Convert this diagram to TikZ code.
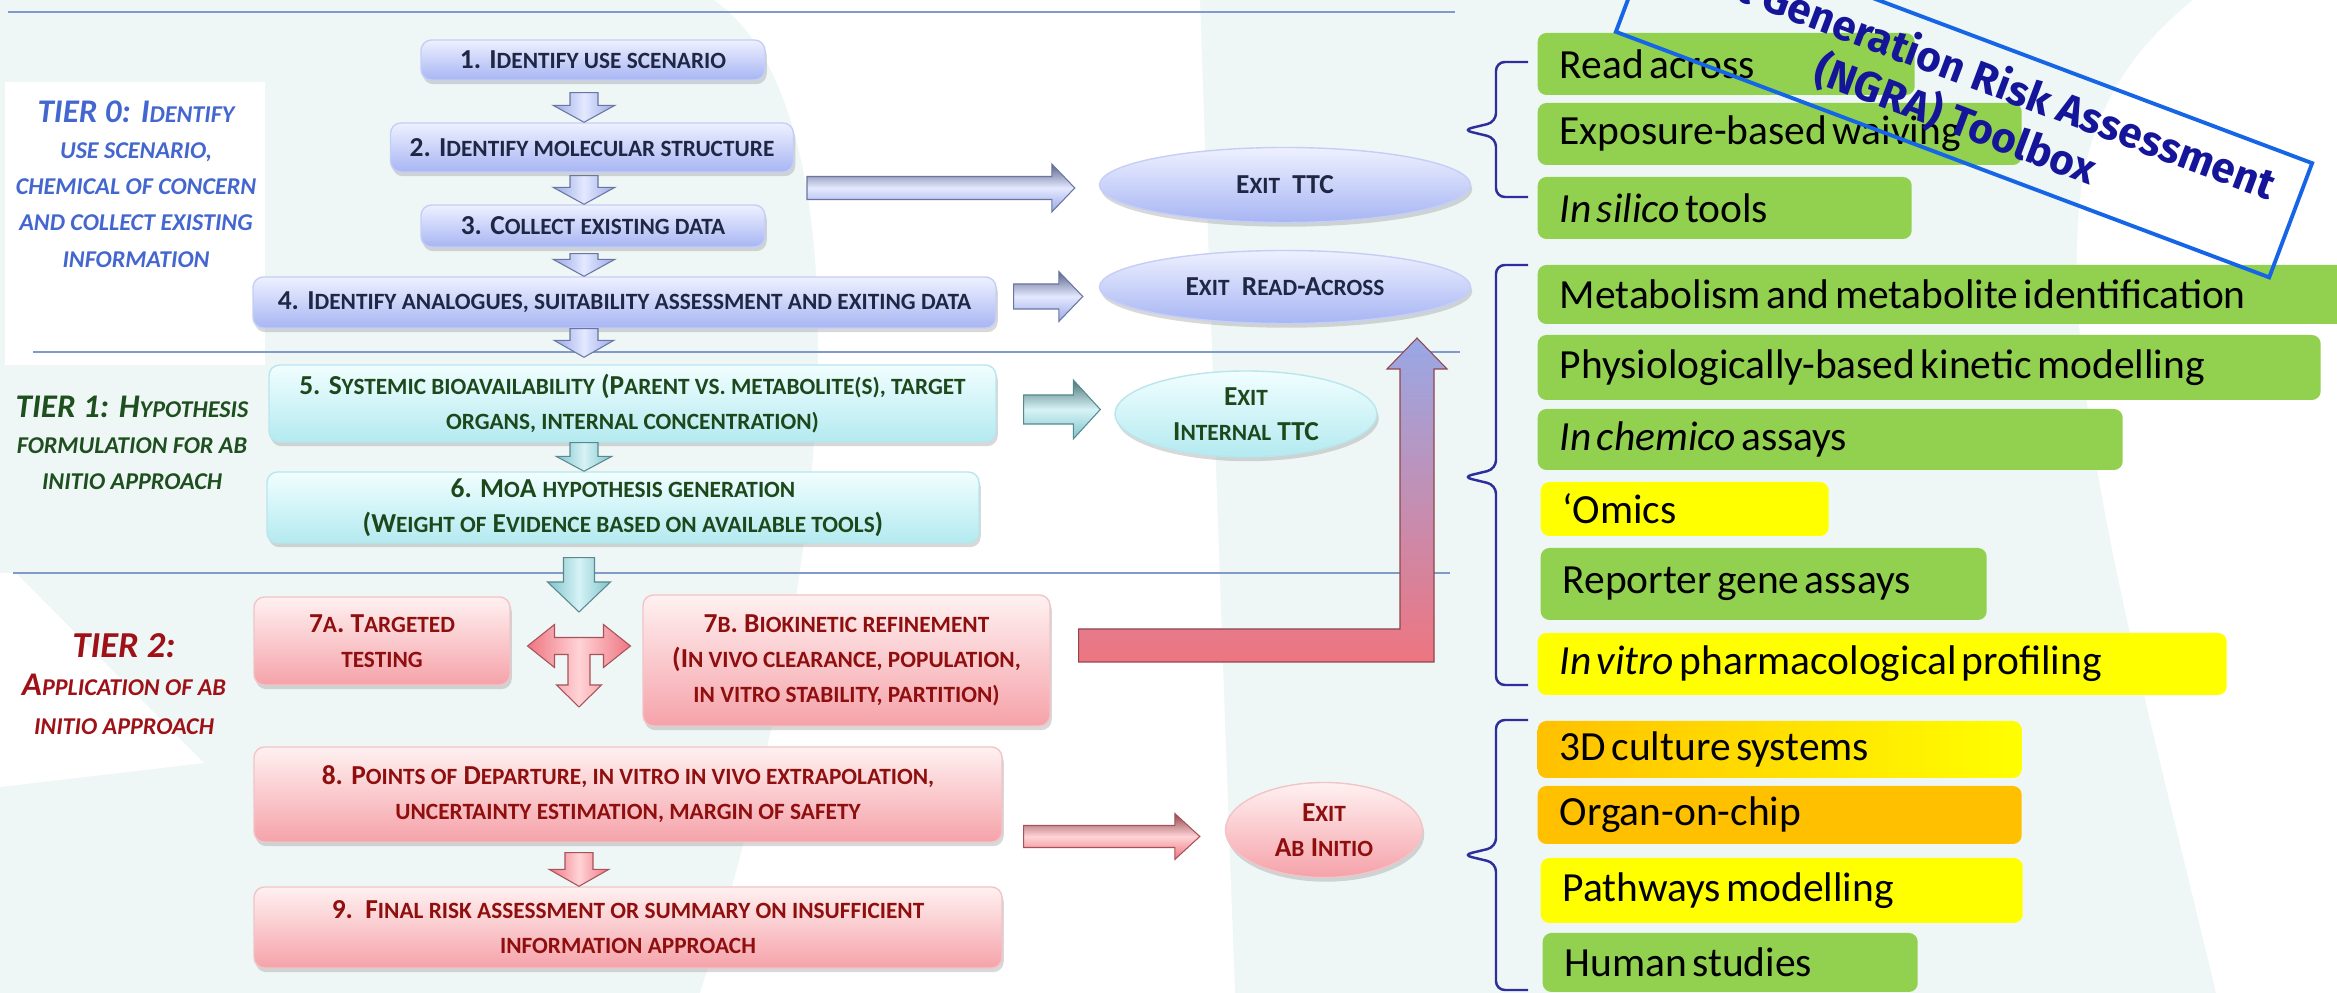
\documentclass[tikz,border=0pt]{standalone}
\usepackage{fontspec}
\setmainfont{Carlito}
\newfontfamily\toolfont{Carlito}
\newfontfamily\bannerfont{Fira Sans}
\usetikzlibrary{calc,positioning,shapes.geometric,shadows}

\definecolor{mint}{HTML}{EEF7F6}
\definecolor{rulec}{HTML}{7F9ACB}
\definecolor{navytxt}{HTML}{1F2744}
\definecolor{greentxt}{HTML}{1C481C}
\definecolor{redtxt}{HTML}{8F0E0E}
\definecolor{tzero}{HTML}{4466CF}
\definecolor{tone}{HTML}{1E4F1F}
\definecolor{ttwo}{HTML}{9E1217}
\definecolor{lavtop}{HTML}{EEF1FF}
\definecolor{lavbot}{HTML}{A7B5F3}
\definecolor{lavedge}{HTML}{C5CEF7}
\definecolor{cyantop}{HTML}{F1FEFF}
\definecolor{cyanbot}{HTML}{B3EAF0}
\definecolor{cyanedge}{HTML}{B8E6EC}
\definecolor{pinktop}{HTML}{FFF1F1}
\definecolor{pinkbot}{HTML}{F5A2A9}
\definecolor{pinkedge}{HTML}{F2C4C7}
\definecolor{arrlav}{HTML}{98A8E6}
\definecolor{arrlight}{HTML}{E4E9FF}
\definecolor{arrcyan}{HTML}{7FC3CB}
\definecolor{arrcyanlt}{HTML}{D6F3F6}
\definecolor{arrpink}{HTML}{EE7580}
\definecolor{arrpinklt}{HTML}{FFD3D6}
\definecolor{leaf}{HTML}{92D050}
\definecolor{sun}{HTML}{FFFF00}
\definecolor{amber}{HTML}{FFC000}
\definecolor{bracec}{HTML}{2D2D9C}
\definecolor{bannerblue}{HTML}{1565E6}
\definecolor{bannertxt}{HTML}{15159A}

\newcommand\skf{0.85}
\makeatletter
\newcommand\sk[1]{{\fontsize{\fpeval{\skf*\f@size}}{\f@baselineskip}\selectfont\MakeUppercase{#1}}}
\makeatother
\newcommand\bxf{\fontsize{7.8}{10}\selectfont\bfseries}

\newcommand\arrdown[6]{%
  \path[#1] let \p1=#2, \p2=#3 in
    (\x1-#4,\y1) -- (\x1+#4,\y1) -- (\x1+#4,\y2+#6) -- (\x1+#5,\y2+#6) -- (\x1,\y2)
    -- (\x1-#5,\y2+#6) -- (\x1-#4,\y2+#6) -- cycle;}
\newcommand\arrright[6]{%
  \path[#1] let \p1=#2, \p2=#3 in
    (\x1,\y1+#4) -- (\x2-#6,\y1+#4) -- (\x2-#6,\y1+#5) -- (\x2,\y1)
    -- (\x2-#6,\y1-#5) -- (\x2-#6,\y1-#4) -- (\x1,\y1-#4) -- cycle;}

\begin{document}
\begin{tikzpicture}[
  shade0/.style={top color=lavtop, bottom color=lavbot, draw=lavedge, text=navytxt},
  shade1/.style={top color=cyantop, bottom color=cyanbot, draw=cyanedge, text=greentxt},
  shade2/.style={top color=pinktop, bottom color=pinkbot, draw=pinkedge, text=redtxt},
  stepbox/.style={rounded corners=3pt, line width=0.4pt, align=center, inner sep=1pt, font=\bxf,
    drop shadow={shadow xshift=0.5pt, shadow yshift=-1.2pt, opacity=0.3}},
  exitnode/.style={ellipse, line width=0.4pt, align=center, inner sep=0pt, font=\bxf,
    drop shadow={shadow xshift=0.5pt, shadow yshift=-1.2pt, opacity=0.3}},
  tier/.style={align=center, font=\fontsize{9.4}{10.3}\selectfont\bfseries\itshape,
    execute at begin node={\def\skf{0.73}}},
  gbox/.style 2 args={anchor=west, rounded corners=2.5pt, text width=#1, minimum height=#2,
    inner xsep=0.22cm, inner ysep=0pt, align=left, font=\toolfont\fontsize{11.8}{14}\selectfont,
    execute at begin node={\spaceskip=0.13em\relax}},
  curly/.style={draw=bracec, line width=0.7pt, rounded corners=2.5pt},
  rule/.style={draw=rulec, line width=0.8pt},
  blk0/.style={left color=arrlav, right color=arrlav, middle color=arrlight, draw=arrlav!70!black, line width=0.3pt},
  blk1/.style={left color=arrcyan, right color=arrcyan, middle color=arrcyanlt, draw=arrcyan!70!black, line width=0.3pt},
  blk2/.style={left color=arrpink, right color=arrpink, middle color=arrpinklt, draw=arrpink!70!black, line width=0.3pt},
  blk0h/.style={top color=arrlav!60!black, bottom color=arrlav, middle color=arrlight, draw=arrlav!70!black, line width=0.3pt},
  blk1h/.style={top color=arrcyan!60!black, bottom color=arrcyan, middle color=arrcyanlt, draw=arrcyan!70!black, line width=0.3pt},
  blk2h/.style={top color=arrpink!60!black, bottom color=arrpink, middle color=arrpinklt, draw=arrpink!70!black, line width=0.3pt},
  blkL/.style={bottom color=arrpink, top color=arrlav, draw=arrpink!60!black, line width=0.3pt}]

  \useasboundingbox (0,0) rectangle (23.37,9.93);
  \clip (0,0) rectangle (23.37,9.93);

  \fill[mint] (0,0) rectangle (23.37,9.93);
  \fill[white] (7.14,9.93) .. controls (8.5,9.0) and (8.6,5.0) .. (7.0,0) -- (12.35,0)
    .. controls (12.2,4) and (12.1,7) .. (12.0,9.93) -- cycle;
  \fill[white] (21.93,9.93) -- (23.37,9.93) -- (23.37,0) -- (22.16,0)
    .. controls (21.4,3.2) and (20.6,6.0) .. (20.8,7.93) .. controls (20.9,8.9) and (21.4,9.5) .. (21.93,9.93) -- cycle;
  \fill[white] (0.05,9.11) rectangle (2.65,6.28);
  \fill[white] (0,4.2) -- (0.16,4.2) -- (2.04,2.30) -- (0,2.06) -- cycle;

  \draw[rule] (0.08,9.81) -- (14.55,9.81);
  \draw[rule, line width=0.6pt] (0.33,6.41) -- (14.6,6.41);
  \draw[rule, line width=0.6pt] (0.13,4.20) -- (14.5,4.20);

  \node[tier, text=tzero] (tier0) at (1.36,8.09)
    {TIER 0: I\sk{dentify}\\\sk{use scenario,}\\\sk{chemical of concern}\\\sk{and collect existing}\\\sk{information}};
  \node[tier, text=tone] (tier1) at (1.32,5.50)
    {TIER 1: H\sk{ypothesis}\\\sk{formulation for ab}\\\sk{initio approach}};
  \node[tier, text=ttwo, font=\fontsize{9.4}{11}\selectfont\bfseries\itshape] (tier2) at (1.24,3.09)
    {{\fontsize{10.4}{11}\selectfont TIER 2:}\\A\sk{pplication of ab}\\\sk{initio approach}};

  \node[stepbox, shade0, minimum width=3.44cm, minimum height=0.40cm] (step1) at (5.93,9.33)
    {1. I\sk{dentify use scenario}};
  \node[stepbox, shade0, minimum width=4.03cm, minimum height=0.49cm] (step2) at (5.92,8.455)
    {2. I\sk{dentify molecular structure}};
  \node[stepbox, shade0, minimum width=3.44cm, minimum height=0.42cm] (step3) at (5.93,7.67)
    {3. C\sk{ollect existing data}};
  \node[stepbox, shade0, minimum width=7.43cm, minimum height=0.51cm] (step4) at (6.245,6.905)
    {4. I\sk{dentify analogues, suitability assessment and exiting data}};
  \node[stepbox, shade1, minimum width=7.27cm, minimum height=0.77cm] (step5) at (6.325,5.895)
    {5. S\sk{ystemic bioavailability} (P\sk{arent vs. metabolite(s), target}\\\sk{organs, internal concentration)}};
  \node[stepbox, shade1, minimum width=7.12cm, minimum height=0.71cm] (step6) at (6.23,4.855)
    {6. M\sk{o}A \sk{hypothesis generation}\\(W\sk{eight of} E\sk{vidence based on available tools})};
  \node[stepbox, shade2, minimum width=2.56cm, minimum height=0.88cm] (step7a) at (3.82,3.52)
    {7\sk{a}. T\sk{argeted}\\\sk{testing}};
  \node[stepbox, shade2, minimum width=4.07cm, minimum height=1.31cm] (step7b) at (8.465,3.325)
    {7\sk{b}. B\sk{iokinetic refinement}\\(I\sk{n vivo clearance, population,}\\\sk{in vitro stability, partition)}};
  \node[stepbox, shade2, minimum width=7.48cm, minimum height=0.95cm] (step8) at (6.28,1.985)
    {8. P\sk{oints of} D\sk{eparture, in vitro in vivo extrapolation,}\\\sk{uncertainty estimation, margin of safety}};
  \node[stepbox, shade2, minimum width=7.48cm, minimum height=0.81cm] (step9) at (6.28,0.655)
    {9.\ \ F\sk{inal risk assessment or summary on insufficient}\\\sk{information approach}};

  \node[exitnode, shade0, minimum width=3.71cm, minimum height=0.75cm] (exitttc) at (12.85,8.08)
    {E\sk{xit}\ \ TTC};
  \node[exitnode, shade0, minimum width=3.71cm, minimum height=0.73cm] (exitra) at (12.85,7.06)
    {E\sk{xit}\ \ R\sk{ead}-A\sk{cross}};
  \node[exitnode, shade1, minimum width=2.62cm, minimum height=0.86cm] (exitint) at (12.46,5.79)
    {E\sk{xit}\\I\sk{nternal} TTC};
  \node[exitnode, shade2, minimum width=1.97cm, minimum height=0.95cm] (exitab) at (13.24,1.63)
    {E\sk{xit}\\A\sk{b} I\sk{nitio}};

  \coordinate (ax) at (5.84,0);
  \coordinate (tee) at (5.79,3.47);
  \coordinate (ttcfrom) at (8.07,8.05);
  \coordinate (uptip) at (14.17,6.55);

  \arrdown{blk0}{($(step1.south -| ax)+(0,-0.12)$)}{(step2.north -| ax)}{0.14cm}{0.31cm}{0.17cm}
  \arrdown{blk0}{($(step2.south -| ax)+(0,-0.03)$)}{(step3.north -| ax)}{0.14cm}{0.31cm}{0.17cm}
  \arrdown{blk0}{($(step3.south -| ax)+(0,-0.06)$)}{(step4.north -| ax)}{0.14cm}{0.31cm}{0.17cm}
  \arrdown{blk0}{(step4.south -| ax)}{($(step5.north -| ax)+(0,0.07)$)}{0.14cm}{0.30cm}{0.17cm}
  \arrdown{blk1}{(step5.south -| ax)}{(step6.north -| ax)}{0.14cm}{0.28cm}{0.15cm}
  \arrdown{blk1}{($(step6.south -| tee)+(0,-0.14)$)}{($(tee)+(0,0.34)$)}{0.155cm}{0.315cm}{0.30cm}
  \arrdown{blk2}{($(step8.south -| tee)+(0,-0.1)$)}{(step9.north -| tee)}{0.14cm}{0.30cm}{0.17cm}

  \path[blk2] let \p1=(tee) in
    (\x1-0.515cm,\y1) -- (\x1-0.245cm,\y1+0.215cm) -- (\x1-0.245cm,\y1+0.085cm)
    -- (\x1+0.245cm,\y1+0.085cm) -- (\x1+0.245cm,\y1+0.215cm) -- (\x1+0.515cm,\y1)
    -- (\x1+0.245cm,\y1-0.215cm) -- (\x1+0.245cm,\y1-0.085cm) -- (\x1+0.11cm,\y1-0.085cm)
    -- (\x1+0.11cm,\y1-0.39cm) -- (\x1+0.225cm,\y1-0.39cm) -- (\x1,\y1-0.61cm)
    -- (\x1-0.225cm,\y1-0.39cm) -- (\x1-0.11cm,\y1-0.39cm) -- (\x1-0.11cm,\y1-0.085cm)
    -- (\x1-0.245cm,\y1-0.085cm) -- (\x1-0.245cm,\y1-0.215cm) -- cycle;

  \arrright{blk0h}{(ttcfrom)}{($(exitttc.west)+(-0.24,0)$)}{0.115cm}{0.24cm}{0.23cm}
  \arrright{blk0h}{($(step4.east)+(0.17,0.06)$)}{($(exitra.west)+(-0.16,0)$)}{0.125cm}{0.25cm}{0.24cm}
  \arrright{blk1h}{($(step5.east)+(0.27,-0.06)$)}{($(exitint.west)+(-0.14,0)$)}{0.145cm}{0.295cm}{0.27cm}
  \arrright{blk2h}{($(step8.east)+(0.21,-0.42)$)}{($(exitab.west)+(-0.25,0)$)}{0.11cm}{0.23cm}{0.25cm}

  \path[blkL] let \p1=($(step7b.east)+(0.28,0.15)$), \p2=(uptip) in
    (\x1,\y1+0.165cm) -- (\x2-0.17cm,\y1+0.165cm) -- (\x2-0.17cm,\y2-0.31cm)
    -- (\x2-0.30cm,\y2-0.31cm) -- (\x2,\y2) -- (\x2+0.30cm,\y2-0.31cm) -- (\x2+0.17cm,\y2-0.31cm)
    -- (\x2+0.17cm,\y1-0.165cm) -- (\x1,\y1-0.165cm) -- cycle;

  \node[gbox={3.33cm}{0.62cm}, fill=leaf] (readacross) at (15.37,9.29) {Read across};
  \node[gbox={4.40cm}{0.62cm}, fill=leaf] (waiving) at (15.37,8.59) {Exposure-based waiving};
  \node[gbox={3.30cm}{0.62cm}, fill=leaf] (insilico) at (15.37,7.85) {\textit{In silico} tools};
  \node[gbox={7.66cm}{0.59cm}, fill=leaf] (metab) at (15.37,6.985) {Metabolism and metabolite identification};
  \node[gbox={7.39cm}{0.65cm}, fill=leaf] (pbk) at (15.37,6.255) {Physiologically-based kinetic modelling};
  \node[gbox={5.41cm}{0.61cm}, fill=leaf] (inchemico) at (15.37,5.535) {\textit{In chemico} assays};
  \node[gbox={2.44cm}{0.54cm}, fill=sun] (omics) at (15.40,4.84) {‘Omics};
  \node[gbox={4.02cm}{0.72cm}, fill=leaf] (reporter) at (15.40,4.09) {Reporter gene assays};
  \node[gbox={6.45cm}{0.62cm}, fill=sun] (invitro) at (15.37,3.29) {\textit{In vitro} pharmacological profiling};
  \node[gbox={4.40cm}{0.57cm}, left color=amber, right color=sun] (culture) at (15.37,2.435) {3D culture systems};
  \node[gbox={4.40cm}{0.58cm}, fill=amber] (organ) at (15.37,1.78) {Organ-on-chip};
  \node[gbox={4.38cm}{0.65cm}, fill=sun] (pathways) at (15.40,1.025) {Pathways modelling};
  \node[gbox={3.31cm}{0.59cm}, fill=leaf] (human) at (15.42,0.305) {Human studies};

  \draw[curly] (15.28,9.31) -- (14.96,9.31) -- (14.96,8.71) -- (14.63,8.63) -- (14.96,8.55) -- (14.96,7.96) -- (15.28,7.96);
  \draw[curly] (15.28,7.28) -- (14.96,7.28) -- (14.96,5.24) -- (14.63,5.16) -- (14.96,5.08) -- (14.96,3.08) -- (15.28,3.08);
  \draw[curly] (15.28,2.73) -- (14.96,2.73) -- (14.96,1.46) -- (14.63,1.38) -- (14.96,1.30) -- (14.96,0.03) -- (15.28,0.03);

  \node[draw=bannerblue, line width=1.1pt, rotate=-20.6, minimum width=6.98cm, minimum height=1.22cm,
    align=center, text=bannertxt, font=\bannerfont\bfseries\fontsize{12}{14}\selectfont] (ngra) at (19.64,8.955)
    {Next Generation Risk Assessment\\(NGRA) Toolbox};
\end{tikzpicture}
\end{document}
